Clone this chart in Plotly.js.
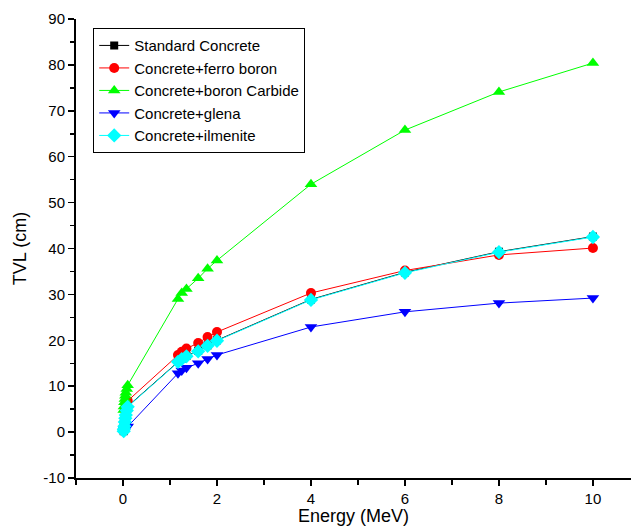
<!DOCTYPE html>
<html>
<head>
<meta charset="utf-8">
<script src="https://cdn.plot.ly/plotly-3.0.1.min.js"></script>
<style>html,body{margin:0;padding:0;background:#fff;}#chart{width:631px;height:526px;}</style>
</head>
<body>
<div id="chart"></div>
<script>
// Energies (MeV)
const energy = [0.015, 0.02, 0.03, 0.04, 0.05, 0.06, 0.08, 0.1, 1.17, 1.25, 1.35, 1.6, 1.8, 2.0, 4, 6, 8, 10];

// TVL (cm) for each concrete type
const standardConcrete = [0.2, 0.6, 1.3, 2.2, 3.0, 3.7, 4.7, 5.6, 15.4, 16.0, 16.6, 17.7, 18.9, 20.0, 28.9, 34.8, 39.3, 42.6];
const ferroBoron      = [0.3, 0.8, 1.6, 2.6, 3.5, 4.4, 5.6, 6.8, 16.8, 17.5, 18.2, 19.4, 20.7, 21.8, 30.3, 35.2, 38.6, 40.1];
const boronCarbide    = [4.8, 5.6, 6.5, 7.2, 7.9, 8.6, 9.4, 10.2, 29.0, 30.3, 31.2, 33.5, 35.6, 37.4, 54.0, 65.8, 74.1, 80.4];
const glena           = [0.1, 0.3, 0.5, 0.7, 0.8, 0.9, 1.0, 1.2, 12.8, 13.4, 14.0, 15.0, 15.9, 16.8, 22.9, 26.2, 28.1, 29.2];
const ilmenite        = [0.2, 0.6, 1.3, 2.2, 3.0, 3.7, 4.7, 5.5, 15.3, 15.9, 16.5, 17.6, 18.8, 19.9, 28.8, 34.7, 39.2, 42.5];

const seriesNames = ["Standard Concrete", "Concrete+ferro boron", "Concrete+boron Carbide", "Concrete+glena", "Concrete+ilmenite"];
const seriesData = [standardConcrete, ferroBoron, boronCarbide, glena, ilmenite];
const colors = ["#000000", "#FF0000", "#00FF00", "#0000FF", "#00FFFF"];
const symbols = ["square", "circle", "triangle-up", "triangle-down", "diamond"];
const sizes = [8, 10, 11, 11, 11];

const xTicks = [0, 2, 4, 6, 8, 10];
const yTicks = [-10, 0, 10, 20, 30, 40, 50, 60, 70, 80, 90];

const traces = seriesNames.map((name, i) => ({
  x: energy,
  y: seriesData[i],
  name: name,
  type: "scatter",
  mode: "lines+markers",
  line: {color: colors[i], width: 1},
  marker: {color: colors[i], symbol: symbols[i], size: sizes[i]}
}));

const fam = "Liberation Sans, Arial, sans-serif";

const layout = {
  width: 631,
  height: 526,
  margin: {l: 76, r: 0, t: 19, b: 48},
  paper_bgcolor: "#fff",
  plot_bgcolor: "#fff",
  font: {family: fam, size: 15, color: "#000"},
  showlegend: true,
  legend: {
    x: 0.031, y: 0.98, xanchor: "left", yanchor: "top",
    bordercolor: "#000", borderwidth: 1, bgcolor: "#fff",
    font: {family: fam, size: 15, color: "#000"},
    tracegroupgap: 0, itemwidth: 30
  },
  xaxis: {
    range: [-1, 10.81],
    tickvals: xTicks,
    ticktext: xTicks.map(String),
    ticks: "outside", ticklen: 6, tickwidth: 1.5, tickcolor: "#000",
    minor: {dtick: 1, ticks: "outside", ticklen: 5, tickwidth: 1.5, tickcolor: "#000", showgrid: false},
    showline: true, linecolor: "#000", linewidth: 2,
    showgrid: false, zeroline: false,
    tickfont: {family: fam, size: 15, color: "#000"},
    title: {text: "Energy (MeV)", font: {family: fam, size: 18, color: "#000"}, standoff: 4}
  },
  yaxis: {
    range: [-10, 90],
    tickvals: yTicks,
    ticktext: yTicks.map(String),
    ticks: "outside", ticklen: 6, tickwidth: 1.5, tickcolor: "#000",
    minor: {dtick: 5, tick0: -5, ticks: "outside", ticklen: 4, tickwidth: 1.5, tickcolor: "#000", showgrid: false},
    showline: true, linecolor: "#000", linewidth: 2,
    showgrid: false, zeroline: false,
    tickfont: {family: fam, size: 15, color: "#000"},
    title: {text: "TVL (cm)", font: {family: fam, size: 18, color: "#000"}, standoff: 12}
  }
};

Plotly.newPlot("chart", traces, layout, {displayModeBar: false, staticPlot: true});
</script>
</body>
</html>
